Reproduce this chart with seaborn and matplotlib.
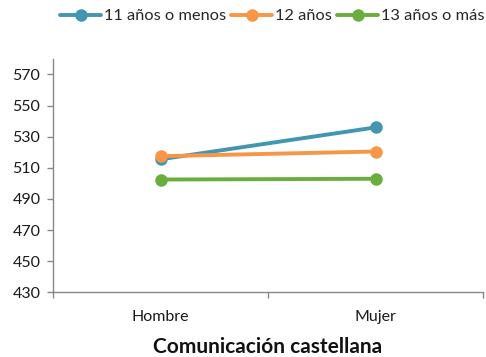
import matplotlib
matplotlib.use("Agg")
import matplotlib.pyplot as plt
import seaborn as sns
import pandas as pd
from matplotlib.ticker import FixedLocator

categories = ["Hombre", "Mujer"]
series_names = ["11 años o menos", "12 años", "13 años o más"]
values_11_menos = [515.5, 536]
values_12 = [517.5, 520.5]
values_13_mas = [502.5, 503]
yticks = [430, 450, 470, 490, 510, 530, 550, 570]
xlabel = "Comunicación castellana"

colors = ["#4296B0", "#F79646", "#6AAF3D"]

rows = []
for name, vals in zip(series_names, [values_11_menos, values_12, values_13_mas]):
    for cat, v in zip(categories, vals):
        rows.append({"Sexo": cat, "Puntuación": v, "Grupo": name})
df = pd.DataFrame(rows)

sns.set_theme(style="white")
plt.rcParams["font.family"] = ["Lato", "DejaVu Sans"]

fig = plt.figure(figsize=(4.86, 3.57), dpi=100)
ax = fig.add_axes([0.109, 0.181, 0.885, 0.654])

sns.lineplot(data=df, x="Sexo", y="Puntuación", hue="Grupo",
             hue_order=series_names, palette=colors, marker="o",
             markersize=9, linewidth=2.8, markeredgewidth=0,
             sort=False, ax=ax)

ax.set_xlim(-0.5, 1.5)
ax.set_ylim(430, 580)
ax.set_yticks(yticks)
ax.set_yticklabels([str(t) for t in yticks], fontsize=11.5, color="#1a1a1a")
ax.set_xticks([0, 1])
ax.set_xticklabels(categories, fontsize=11.5, color="#1a1a1a")
ax.xaxis.set_minor_locator(FixedLocator([-0.5, 0.5, 1.5]))
ax.tick_params(axis="x", which="major", length=0, pad=13)
ax.tick_params(axis="x", which="minor", length=4, width=1, color="#888888", direction="out", bottom=True)
ax.tick_params(axis="y", which="major", length=4, width=1, color="#888888", direction="out", left=True, pad=5)

for s in ["top", "right"]:
    ax.spines[s].set_visible(False)
for s in ["left", "bottom"]:
    ax.spines[s].set_color("#888888")
    ax.spines[s].set_linewidth(1)

ax.set_ylabel("")
ax.set_xlabel(xlabel, fontsize=15, fontweight="bold", color="#111111", labelpad=9)
ax.grid(False)

handles, labels = ax.get_legend_handles_labels()
ax.legend(handles, labels, loc="upper right", bbox_to_anchor=(1.0, 0.98),
          bbox_transform=fig.transFigure, ncol=3, frameon=False,
          fontsize=11.8, handlelength=2.5, handletextpad=0.15,
          columnspacing=0.35, borderaxespad=0.0, borderpad=0.1)

fig.savefig("out.png", dpi=100)
